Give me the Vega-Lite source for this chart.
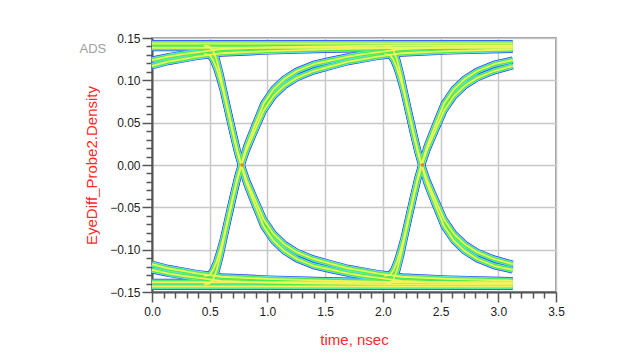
{
  "$schema": "https://vega.github.io/schema/vega-lite/v6.json",
  "width": 404,
  "height": 254,
  "autosize": {"type": "none"},
  "padding": {"left": 152, "top": 38, "right": 84, "bottom": 69},
  "background": "white",
  "config": {"view": {"stroke": "#7a7a7a", "strokeWidth": 1.5}},
  "datasets": {
    "traces": [
      {"s":"hs_a","t":0,"v":0.1435},{"s":"hs_a","t":0.5,"v":0.1435},{"s":"hs_a","t":1.0,"v":0.1435},{"s":"hs_a","t":1.5,"v":0.1435},{"s":"hs_a","t":2.0,"v":0.1435},{"s":"hs_a","t":2.5,"v":0.1435},{"s":"hs_a","t":3.125,"v":0.1435},
      {"s":"hs_b","t":0,"v":0.1385},{"s":"hs_b","t":0.5,"v":0.1385},{"s":"hs_b","t":1.0,"v":0.1385},{"s":"hs_b","t":1.5,"v":0.1385},{"s":"hs_b","t":2.0,"v":0.1385},{"s":"hs_b","t":2.5,"v":0.1385},{"s":"hs_b","t":3.125,"v":0.1385},
      {"s":"ls_a","t":0,"v":-0.1435},{"s":"ls_a","t":0.5,"v":-0.1435},{"s":"ls_a","t":1.0,"v":-0.1435},{"s":"ls_a","t":1.5,"v":-0.1435},{"s":"ls_a","t":2.0,"v":-0.1435},{"s":"ls_a","t":2.5,"v":-0.1435},{"s":"ls_a","t":3.125,"v":-0.1435},
      {"s":"ls_b","t":0,"v":-0.1385},{"s":"ls_b","t":0.5,"v":-0.1385},{"s":"ls_b","t":1.0,"v":-0.1385},{"s":"ls_b","t":1.5,"v":-0.1385},{"s":"ls_b","t":2.0,"v":-0.1385},{"s":"ls_b","t":2.5,"v":-0.1385},{"s":"ls_b","t":3.125,"v":-0.1385},

      {"s":"ht_a","t":0,"v":0.117},{"s":"ht_a","t":0.138,"v":0.122},{"s":"ht_a","t":0.268,"v":0.125},{"s":"ht_a","t":0.388,"v":0.128},{"s":"ht_a","t":0.5,"v":0.130},{"s":"ht_a","t":0.6,"v":0.132},{"s":"ht_a","t":1.0,"v":0.1345},{"s":"ht_a","t":1.5,"v":0.1365},{"s":"ht_a","t":2.063,"v":0.138},{"s":"ht_a","t":2.6,"v":0.139},{"s":"ht_a","t":3.125,"v":0.1395},
      {"s":"ht_b","t":0,"v":0.124},{"s":"ht_b","t":0.138,"v":0.128},{"s":"ht_b","t":0.268,"v":0.131},{"s":"ht_b","t":0.388,"v":0.133},{"s":"ht_b","t":0.5,"v":0.135},{"s":"ht_b","t":0.6,"v":0.137},{"s":"ht_b","t":1.0,"v":0.139},{"s":"ht_b","t":1.5,"v":0.140},{"s":"ht_b","t":2.063,"v":0.141},{"s":"ht_b","t":3.125,"v":0.141},
      {"s":"lt_a","t":0,"v":-0.117},{"s":"lt_a","t":0.138,"v":-0.122},{"s":"lt_a","t":0.268,"v":-0.125},{"s":"lt_a","t":0.388,"v":-0.128},{"s":"lt_a","t":0.5,"v":-0.130},{"s":"lt_a","t":0.6,"v":-0.132},{"s":"lt_a","t":1.0,"v":-0.1345},{"s":"lt_a","t":1.5,"v":-0.1365},{"s":"lt_a","t":2.063,"v":-0.138},{"s":"lt_a","t":2.6,"v":-0.139},{"s":"lt_a","t":3.125,"v":-0.1395},
      {"s":"lt_b","t":0,"v":-0.124},{"s":"lt_b","t":0.138,"v":-0.128},{"s":"lt_b","t":0.268,"v":-0.131},{"s":"lt_b","t":0.388,"v":-0.133},{"s":"lt_b","t":0.5,"v":-0.135},{"s":"lt_b","t":0.6,"v":-0.137},{"s":"lt_b","t":1.0,"v":-0.139},{"s":"lt_b","t":1.5,"v":-0.140},{"s":"lt_b","t":2.063,"v":-0.141},{"s":"lt_b","t":3.125,"v":-0.141},

      {"s":"r1_a","t":0.45,"v":-0.141},{"s":"r1_a","t":0.5,"v":-0.140},{"s":"r1_a","t":0.53,"v":-0.135},{"s":"r1_a","t":0.56,"v":-0.124},{"s":"r1_a","t":0.59,"v":-0.108},{"s":"r1_a","t":0.62,"v":-0.089},{"s":"r1_a","t":0.66,"v":-0.064},{"s":"r1_a","t":0.70,"v":-0.040},{"s":"r1_a","t":0.74,"v":-0.017},{"s":"r1_a","t":0.78,"v":0.002},{"s":"r1_a","t":0.82,"v":0.018},{"s":"r1_a","t":0.88,"v":0.037},{"s":"r1_a","t":0.966,"v":0.064},{"s":"r1_a","t":1.05,"v":0.081},{"s":"r1_a","t":1.15,"v":0.094},{"s":"r1_a","t":1.255,"v":0.103},{"s":"r1_a","t":1.4,"v":0.111},{"s":"r1_a","t":1.562,"v":0.117},{"s":"r1_a","t":1.7,"v":0.122},{"s":"r1_a","t":1.83,"v":0.125},{"s":"r1_a","t":1.95,"v":0.128},{"s":"r1_a","t":2.063,"v":0.130},{"s":"r1_a","t":2.163,"v":0.132},{"s":"r1_a","t":2.563,"v":0.1345},{"s":"r1_a","t":3.125,"v":0.1365},
      {"s":"r1_b","t":0.45,"v":-0.131},{"s":"r1_b","t":0.5,"v":-0.130},{"s":"r1_b","t":0.53,"v":-0.124},{"s":"r1_b","t":0.56,"v":-0.114},{"s":"r1_b","t":0.59,"v":-0.101},{"s":"r1_b","t":0.62,"v":-0.086},{"s":"r1_b","t":0.66,"v":-0.062},{"s":"r1_b","t":0.70,"v":-0.038},{"s":"r1_b","t":0.74,"v":-0.015},{"s":"r1_b","t":0.78,"v":0.004},{"s":"r1_b","t":0.82,"v":0.022},{"s":"r1_b","t":0.88,"v":0.043},{"s":"r1_b","t":0.966,"v":0.072},{"s":"r1_b","t":1.05,"v":0.089},{"s":"r1_b","t":1.15,"v":0.102},{"s":"r1_b","t":1.255,"v":0.111},{"s":"r1_b","t":1.4,"v":0.119},{"s":"r1_b","t":1.562,"v":0.124},{"s":"r1_b","t":1.7,"v":0.128},{"s":"r1_b","t":1.83,"v":0.131},{"s":"r1_b","t":1.95,"v":0.133},{"s":"r1_b","t":2.063,"v":0.135},{"s":"r1_b","t":2.163,"v":0.137},{"s":"r1_b","t":2.563,"v":0.139},{"s":"r1_b","t":3.125,"v":0.140},
      {"s":"f1_a","t":0.45,"v":0.141},{"s":"f1_a","t":0.5,"v":0.140},{"s":"f1_a","t":0.53,"v":0.135},{"s":"f1_a","t":0.56,"v":0.124},{"s":"f1_a","t":0.59,"v":0.108},{"s":"f1_a","t":0.62,"v":0.089},{"s":"f1_a","t":0.66,"v":0.064},{"s":"f1_a","t":0.70,"v":0.040},{"s":"f1_a","t":0.74,"v":0.017},{"s":"f1_a","t":0.78,"v":-0.002},{"s":"f1_a","t":0.82,"v":-0.018},{"s":"f1_a","t":0.88,"v":-0.037},{"s":"f1_a","t":0.966,"v":-0.064},{"s":"f1_a","t":1.05,"v":-0.081},{"s":"f1_a","t":1.15,"v":-0.094},{"s":"f1_a","t":1.255,"v":-0.103},{"s":"f1_a","t":1.4,"v":-0.111},{"s":"f1_a","t":1.562,"v":-0.117},{"s":"f1_a","t":1.7,"v":-0.122},{"s":"f1_a","t":1.83,"v":-0.125},{"s":"f1_a","t":1.95,"v":-0.128},{"s":"f1_a","t":2.063,"v":-0.130},{"s":"f1_a","t":2.163,"v":-0.132},{"s":"f1_a","t":2.563,"v":-0.1345},{"s":"f1_a","t":3.125,"v":-0.1365},
      {"s":"f1_b","t":0.45,"v":0.131},{"s":"f1_b","t":0.5,"v":0.130},{"s":"f1_b","t":0.53,"v":0.124},{"s":"f1_b","t":0.56,"v":0.114},{"s":"f1_b","t":0.59,"v":0.101},{"s":"f1_b","t":0.62,"v":0.086},{"s":"f1_b","t":0.66,"v":0.062},{"s":"f1_b","t":0.70,"v":0.038},{"s":"f1_b","t":0.74,"v":0.015},{"s":"f1_b","t":0.78,"v":-0.004},{"s":"f1_b","t":0.82,"v":-0.022},{"s":"f1_b","t":0.88,"v":-0.043},{"s":"f1_b","t":0.966,"v":-0.072},{"s":"f1_b","t":1.05,"v":-0.089},{"s":"f1_b","t":1.15,"v":-0.102},{"s":"f1_b","t":1.255,"v":-0.111},{"s":"f1_b","t":1.4,"v":-0.119},{"s":"f1_b","t":1.562,"v":-0.124},{"s":"f1_b","t":1.7,"v":-0.128},{"s":"f1_b","t":1.83,"v":-0.131},{"s":"f1_b","t":1.95,"v":-0.133},{"s":"f1_b","t":2.063,"v":-0.135},{"s":"f1_b","t":2.163,"v":-0.137},{"s":"f1_b","t":2.563,"v":-0.139},{"s":"f1_b","t":3.125,"v":-0.140},

      {"s":"r2_a","t":2.013,"v":-0.141},{"s":"r2_a","t":2.063,"v":-0.140},{"s":"r2_a","t":2.093,"v":-0.135},{"s":"r2_a","t":2.123,"v":-0.124},{"s":"r2_a","t":2.153,"v":-0.108},{"s":"r2_a","t":2.183,"v":-0.089},{"s":"r2_a","t":2.223,"v":-0.064},{"s":"r2_a","t":2.263,"v":-0.040},{"s":"r2_a","t":2.303,"v":-0.017},{"s":"r2_a","t":2.343,"v":0.002},{"s":"r2_a","t":2.383,"v":0.018},{"s":"r2_a","t":2.443,"v":0.037},{"s":"r2_a","t":2.529,"v":0.064},{"s":"r2_a","t":2.613,"v":0.081},{"s":"r2_a","t":2.713,"v":0.094},{"s":"r2_a","t":2.818,"v":0.103},{"s":"r2_a","t":2.963,"v":0.111},{"s":"r2_a","t":3.125,"v":0.117},
      {"s":"r2_b","t":2.013,"v":-0.131},{"s":"r2_b","t":2.063,"v":-0.130},{"s":"r2_b","t":2.093,"v":-0.124},{"s":"r2_b","t":2.123,"v":-0.114},{"s":"r2_b","t":2.153,"v":-0.101},{"s":"r2_b","t":2.183,"v":-0.086},{"s":"r2_b","t":2.223,"v":-0.062},{"s":"r2_b","t":2.263,"v":-0.038},{"s":"r2_b","t":2.303,"v":-0.015},{"s":"r2_b","t":2.343,"v":0.004},{"s":"r2_b","t":2.383,"v":0.022},{"s":"r2_b","t":2.443,"v":0.043},{"s":"r2_b","t":2.529,"v":0.072},{"s":"r2_b","t":2.613,"v":0.089},{"s":"r2_b","t":2.713,"v":0.102},{"s":"r2_b","t":2.818,"v":0.111},{"s":"r2_b","t":2.963,"v":0.119},{"s":"r2_b","t":3.125,"v":0.124},
      {"s":"f2_a","t":2.013,"v":0.141},{"s":"f2_a","t":2.063,"v":0.140},{"s":"f2_a","t":2.093,"v":0.135},{"s":"f2_a","t":2.123,"v":0.124},{"s":"f2_a","t":2.153,"v":0.108},{"s":"f2_a","t":2.183,"v":0.089},{"s":"f2_a","t":2.223,"v":0.064},{"s":"f2_a","t":2.263,"v":0.040},{"s":"f2_a","t":2.303,"v":0.017},{"s":"f2_a","t":2.343,"v":-0.002},{"s":"f2_a","t":2.383,"v":-0.018},{"s":"f2_a","t":2.443,"v":-0.037},{"s":"f2_a","t":2.529,"v":-0.064},{"s":"f2_a","t":2.613,"v":-0.081},{"s":"f2_a","t":2.713,"v":-0.094},{"s":"f2_a","t":2.818,"v":-0.103},{"s":"f2_a","t":2.963,"v":-0.111},{"s":"f2_a","t":3.125,"v":-0.117},
      {"s":"f2_b","t":2.013,"v":0.131},{"s":"f2_b","t":2.063,"v":0.130},{"s":"f2_b","t":2.093,"v":0.124},{"s":"f2_b","t":2.123,"v":0.114},{"s":"f2_b","t":2.153,"v":0.101},{"s":"f2_b","t":2.183,"v":0.086},{"s":"f2_b","t":2.223,"v":0.062},{"s":"f2_b","t":2.263,"v":0.038},{"s":"f2_b","t":2.303,"v":0.015},{"s":"f2_b","t":2.343,"v":-0.004},{"s":"f2_b","t":2.383,"v":-0.022},{"s":"f2_b","t":2.443,"v":-0.043},{"s":"f2_b","t":2.529,"v":-0.072},{"s":"f2_b","t":2.613,"v":-0.089},{"s":"f2_b","t":2.713,"v":-0.102},{"s":"f2_b","t":2.818,"v":-0.111},{"s":"f2_b","t":2.963,"v":-0.119},{"s":"f2_b","t":3.125,"v":-0.124}
    ],
    "crossings": [{"t":0.779,"v":0.0},{"t":2.342,"v":0.0}],
    "logo": [{"label":"ADS","t":-0.512,"v":0.1374}]
  },
  "data": {"name": "traces"},
  "encoding": {
    "x": {
      "field": "t", "type": "quantitative",
      "scale": {"domain": [0, 3.5], "nice": false, "zero": false},
      "axis": {
        "values": [0,0.1,0.2,0.3,0.4,0.5,0.6,0.7,0.8,0.9,1.0,1.1,1.2,1.3,1.4,1.5,1.6,1.7,1.8,1.9,2.0,2.1,2.2,2.3,2.4,2.5,2.6,2.7,2.8,2.9,3.0,3.1,3.2,3.3,3.4,3.5],
        "labelExpr": "abs(datum.value*2-round(datum.value*2))<0.001 ? format(datum.value,'.1f') : ''",
        "labelOverlap": false, "labelFlush": false,
        "tickSize": {"condition": {"test": "abs(datum.value*2-round(datum.value*2))<0.001", "value": 10}, "value": 6},
        "gridOpacity": {"condition": {"test": "abs(datum.value*2-round(datum.value*2))<0.001", "value": 1}, "value": 0},
        "grid": true, "gridColor": "#c8c8c8", "gridWidth": 1.5,
        "domainColor": "#555555", "domainWidth": 2, "tickColor": "#555555", "tickWidth": 1.5,
        "labelFont": "Liberation Sans", "labelFontSize": 12, "labelColor": "#222222", "labelPadding": 4,
        "title": "time, nsec", "titleColor": "#ff2a2a", "titleFont": "Liberation Sans", "titleFontSize": 15, "titleFontWeight": "normal",
        "titleX": 202, "titleY": 47, "titleBaseline": "middle", "titleAlign": "center"
      }
    },
    "y": {
      "field": "v", "type": "quantitative",
      "scale": {"domain": [-0.15, 0.15], "nice": false, "zero": false},
      "axis": {
        "values": [-0.15,-0.14,-0.13,-0.12,-0.11,-0.1,-0.09,-0.08,-0.07,-0.06,-0.05,-0.04,-0.03,-0.02,-0.01,0,0.01,0.02,0.03,0.04,0.05,0.06,0.07,0.08,0.09,0.1,0.11,0.12,0.13,0.14,0.15],
        "labelExpr": "abs(datum.value*20-round(datum.value*20))<0.001 ? format(datum.value,'.2f') : ''",
        "labelOverlap": false, "labelFlush": false,
        "tickSize": {"condition": {"test": "abs(datum.value*20-round(datum.value*20))<0.001", "value": 10}, "value": 6},
        "gridOpacity": {"condition": {"test": "abs(datum.value*20-round(datum.value*20))<0.001", "value": 1}, "value": 0},
        "grid": true, "gridColor": "#c8c8c8", "gridWidth": 1.5,
        "domainColor": "#555555", "domainWidth": 2, "tickColor": "#555555", "tickWidth": 1.5,
        "labelFont": "Liberation Sans", "labelFontSize": 12, "labelColor": "#222222", "labelPadding": 2,
        "title": "EyeDiff_Probe2.Density", "titleColor": "#ff2a2a", "titleFont": "Liberation Sans", "titleFontSize": 15, "titleFontWeight": "normal",
        "titleX": -61, "titleY": 127, "titleBaseline": "middle", "titleAlign": "center", "titleAngle": -90
      }
    }
  },
  "layer": [
    {"mark": {"type": "line", "color": "#2f3cf2", "strokeWidth": 7, "strokeCap": "butt", "strokeJoin": "round"}, "encoding": {"detail": {"field": "s"}}},
    {"mark": {"type": "line", "color": "#5ee6f0", "strokeWidth": 5.6, "strokeCap": "butt", "strokeJoin": "round"}, "encoding": {"detail": {"field": "s"}}},
    {"mark": {"type": "line", "color": "#4aec4a", "strokeWidth": 4, "strokeCap": "butt", "strokeJoin": "round"}, "encoding": {"detail": {"field": "s"}}},
    {"mark": {"type": "line", "color": "#f2f25c", "strokeWidth": 1.8, "strokeCap": "butt", "strokeJoin": "round"}, "encoding": {"detail": {"field": "s"}}},
    {"data": {"name": "crossings"}, "mark": {"type": "point", "filled": true, "color": "#ff7a1a", "size": 12, "opacity": 1}},
    {"data": {"name": "logo"}, "mark": {"type": "text", "font": "Liberation Sans Narrow, Liberation Sans", "fontSize": 13, "color": "#a0a0a0", "baseline": "middle", "align": "center"}, "encoding": {"text": {"field": "label"}}}
  ]
}
